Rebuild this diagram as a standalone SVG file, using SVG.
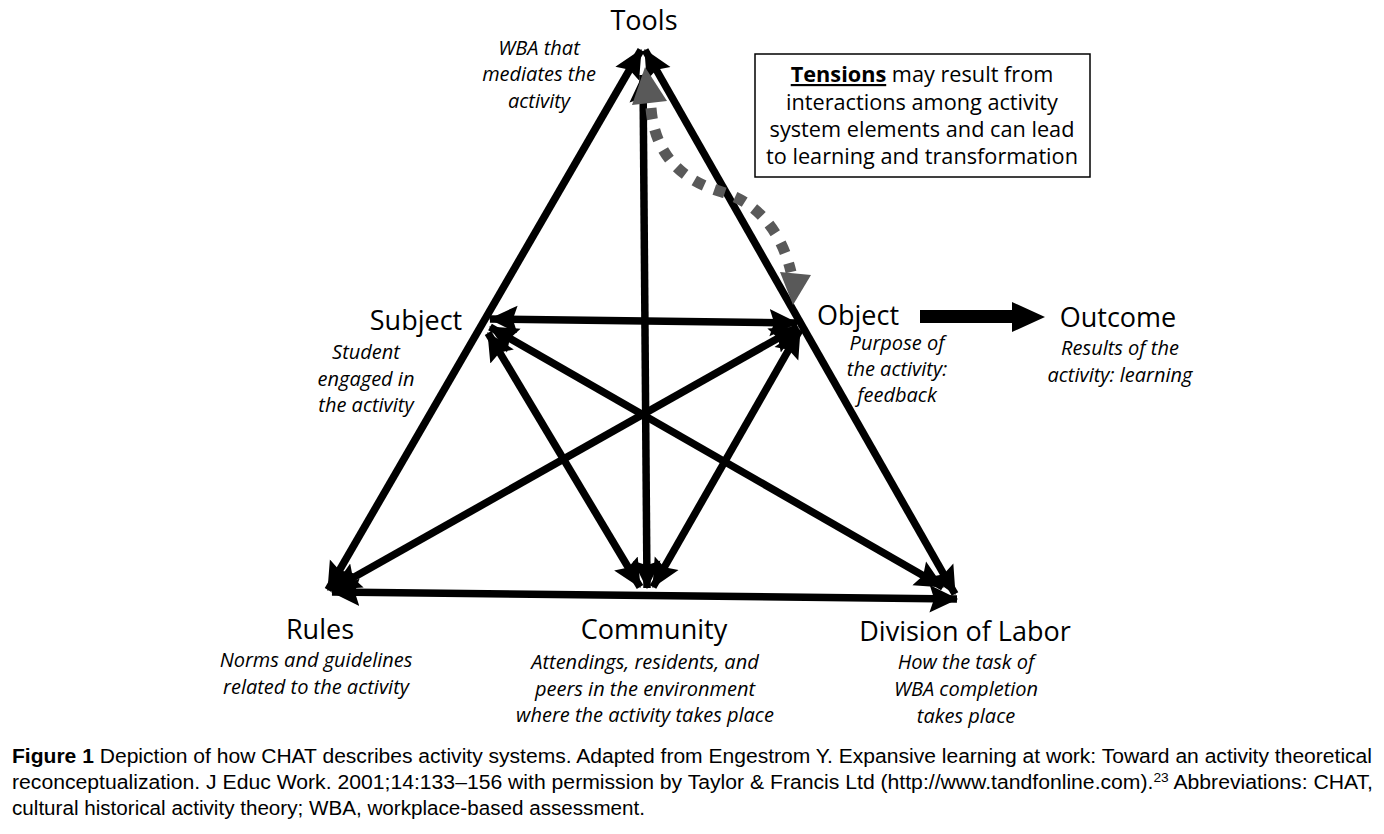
<svg xmlns="http://www.w3.org/2000/svg" width="1384" height="834" viewBox="0 0 1384 834">
<style>
.lbl{font-family:"Open Sans","Liberation Sans",sans-serif;font-size:27px;fill:#000;text-anchor:middle}
.desc{font-family:"Open Sans","Liberation Sans",sans-serif;font-size:20px;font-style:italic;fill:#000;text-anchor:middle}
.ten{font-family:"Open Sans","Liberation Sans",sans-serif;font-size:21.7px;fill:#000;text-anchor:middle}
.cap{font-family:"Liberation Sans",Arial,sans-serif;font-size:20px;fill:#000}
.edge{stroke:#000;stroke-width:7.5;fill:none;marker-start:url(#ah);marker-end:url(#ah)}
</style>
<defs>
<marker id="ah" markerUnits="userSpaceOnUse" markerWidth="32" markerHeight="32" viewBox="0 -13 28 26" refX="24" refY="0" orient="auto-start-reverse">
<path d="M0,-12 L25,0 L0,12 L4,0 z" fill="#000"/>
</marker>
</defs>
<rect width="1384" height="834" fill="#fff"/>
<g id="connectors">
<line class="edge" x1="641" y1="50" x2="328" y2="590"/>
<line class="edge" x1="645" y1="50" x2="955" y2="594"/>
<line class="edge" x1="643" y1="75" x2="647" y2="588"/>
<line class="edge" x1="490" y1="319" x2="797" y2="323"/>
<line class="edge" x1="490" y1="327" x2="943" y2="587"/>
<line class="edge" x1="488" y1="333" x2="640" y2="587"/>
<line class="edge" x1="798" y1="327" x2="333" y2="589"/>
<line class="edge" x1="800" y1="330" x2="653" y2="587"/>
<line class="edge" x1="332" y1="592" x2="957" y2="599"/>
<g id="outcome-arrow">
<rect x="920" y="310" width="94" height="13" fill="#000"/>
<polygon points="1012,302 1045,317 1012,332" fill="#000"/>
</g>
<g id="tension-arrow">
<path d="M651,108 C655,160 688,182 722,192 C756,202 781,230 791,272" fill="none" stroke="#595959" stroke-width="11" stroke-dasharray="11 11"/>
<polygon points="645,67 632,105 667,101" fill="#595959"/>
<polygon points="793,305 780,272 811,275" fill="#595959"/>
</g>
</g>
<g id="tools">
<text class="lbl" x="644" y="30">Tools</text>
<text class="desc"><tspan x="539" y="55">WBA that</tspan><tspan x="539" y="81">mediates the</tspan><tspan x="539" y="108">activity</tspan></text>
</g>
<g id="tensions">
<rect x="755" y="54" width="335" height="123" fill="#fff" stroke="#000" stroke-width="1.5"/>
<text class="ten"><tspan x="922" y="82"><tspan font-weight="bold" text-decoration="underline">Tensions</tspan> may result from</tspan><tspan x="922" y="110">interactions among activity</tspan><tspan x="922" y="137">system elements and can lead</tspan><tspan x="922" y="164">to learning and transformation</tspan></text>
</g>
<g id="subject">
<text class="lbl" x="416" y="330">Subject</text>
<text class="desc"><tspan x="366" y="359">Student</tspan><tspan x="366" y="386">engaged in</tspan><tspan x="366" y="412">the activity</tspan></text>
</g>
<g id="object">
<text class="lbl" x="858" y="325">Object</text>
<text class="desc"><tspan x="897" y="350">Purpose of</tspan><tspan x="897" y="376">the activity:</tspan><tspan x="897" y="402">feedback</tspan></text>
</g>
<g id="outcome">
<text class="lbl" x="1118" y="327">Outcome</text>
<text class="desc"><tspan x="1120" y="355">Results of the</tspan><tspan x="1120" y="382">activity: learning</tspan></text>
</g>
<g id="rules">
<text class="lbl" x="320" y="639">Rules</text>
<text class="desc"><tspan x="316" y="667">Norms and guidelines</tspan><tspan x="316" y="694">related to the activity</tspan></text>
</g>
<g id="community">
<text class="lbl" x="654" y="639">Community</text>
<text class="desc"><tspan x="645" y="669">Attendings, residents, and</tspan><tspan x="645" y="696">peers in the environment</tspan><tspan x="645" y="722">where the activity takes place</tspan></text>
</g>
<g id="division">
<text class="lbl" x="965" y="641">Division of Labor</text>
<text class="desc"><tspan x="966" y="669">How the task of</tspan><tspan x="966" y="696">WBA completion</tspan><tspan x="966" y="723">takes place</tspan></text>
</g>
<g id="caption">
<text class="cap" x="12" y="763" textLength="1360" lengthAdjust="spacingAndGlyphs"><tspan font-weight="bold">Figure 1</tspan> Depiction of how CHAT describes activity systems. Adapted from Engestrom Y. Expansive learning at work: Toward an activity theoretical</text>
<text class="cap" x="12" y="789" textLength="1361" lengthAdjust="spacingAndGlyphs">reconceptualization. J Educ Work. 2001;14:133–156 with permission by Taylor &amp; Francis Ltd (http://www.tandfonline.com).<tspan font-size="13" dy="-7">23</tspan><tspan dy="7"> Abbreviations: CHAT,</tspan></text>
<text class="cap" x="12" y="815" textLength="633" lengthAdjust="spacingAndGlyphs">cultural historical activity theory; WBA, workplace-based assessment.</text>
</g>
</svg>
